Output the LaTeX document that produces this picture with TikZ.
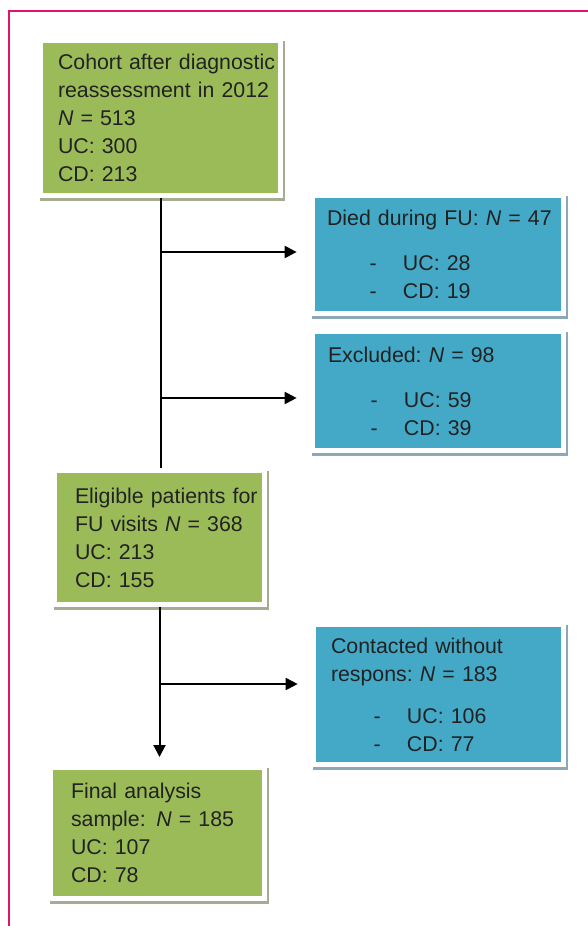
\documentclass[tikz,border=0pt]{standalone}
\usepackage{fontspec}
\setmainfont{Liberation Sans}
\usetikzlibrary{arrows.meta}

\definecolor{boxgreen}{HTML}{9BBB59}
\definecolor{boxblue}{HTML}{43A9C6}
\definecolor{greenshadow}{HTML}{A4AD92}
\definecolor{blueshadow}{HTML}{8CA8B4}
\definecolor{textdark}{HTML}{222222}
\definecolor{framepink}{HTML}{E0136F}

\newcommand{\dashitem}[1]{\hspace*{32pt}\makebox[25pt][l]{-}#1}

\begin{document}
\begin{tikzpicture}[x=0.75pt, y=-0.75pt,
    box/.style={text=textdark, align=left, inner ysep=0pt, outer sep=3.75pt,
        font=\fontsize{16pt}{21pt}\selectfont,
        execute at begin node={\hyphenpenalty=10000 \exhyphenpenalty=10000 },
        preaction={fill=#1, draw=#1, line width=7.5pt,
            transform canvas={xshift=1.5pt, yshift=-2.25pt}},
        preaction={draw=white, line width=7.5pt}},
    greenbox/.style={box=greenshadow, fill=boxgreen},
    bluebox/.style={box=blueshadow, fill=boxblue},
    link/.style={line width=1.5pt, black},
    arrow/.style={link, shorten >=10pt, -{Triangle[length=9pt, width=9pt]}}]
    \useasboundingbox (0,0) rectangle (588,926);
    \draw[framepink, line width=1.5pt] (9,926) -- (9,11) -- (588,11);

    % left column
    \node[greenbox, text width=153.75pt, inner xsep=11.25pt, minimum height=112.5pt] (cohort) at (160.5,118) {
        Cohort~after~diagnostic\\
        reassessment~in~2012\\
        \textit{N} = 513\\
        UC: 300\\
        CD: 213};
    \node[greenbox, text width=126.75pt, inner xsep=13.5pt, minimum height=96.75pt] (elig) at (159.5,537.5) {
        Eligible~patients~for\\
        FU~visits~\textit{N}~=~368\\
        UC: 213\\
        CD: 155};
    \node[greenbox, text width=129.75pt, inner xsep=13.5pt, minimum height=94.5pt] (final) at (157.5,833) {
        Final analysis\\
        sample: \textit{N} = 185\\
        UC: 107\\
        CD: 78};

    % right column
    \node[bluebox, text width=166.5pt, inner xsep=9pt, minimum height=84.75pt] (died) at (438,254.5) {
        Died~during~FU:~\textit{N}~=~47\\[13pt]
        \dashitem{UC: 28}\\
        \dashitem{CD: 19}};
    \node[bluebox, text width=165pt, inner xsep=9.75pt, minimum height=85.5pt] (excl) at (438,391) {
        Excluded:~\textit{N}~=~98\\[12.75pt]
        \dashitem{UC: 59}\\
        \dashitem{CD: 39}};
    \node[bluebox, text width=161.25pt, inner xsep=11.25pt, minimum height=101.25pt] (contact) at (438.5,694.5) {
        Contacted~without\\
        respons:~\textit{N}~=~183\\[10.5pt]
        \dashitem{UC: 106}\\
        \dashitem{CD: 77}};

    % connectors
    \coordinate (j1) at (160.5,252);
    \coordinate (j2) at (160.5,398);
    \coordinate (j3) at (159.5,684);
    \draw[link] (cohort.south) -- (cohort.south |- elig.north);
    \draw[arrow] (j1) -- (j1 -| died.west);
    \draw[arrow] (j2) -- (j2 -| excl.west);
    \draw[arrow, shorten >=6pt] (elig.south) -- (elig.south |- final.north);
    \draw[arrow] (j3) -- (j3 -| contact.west);
\end{tikzpicture}
\end{document}
